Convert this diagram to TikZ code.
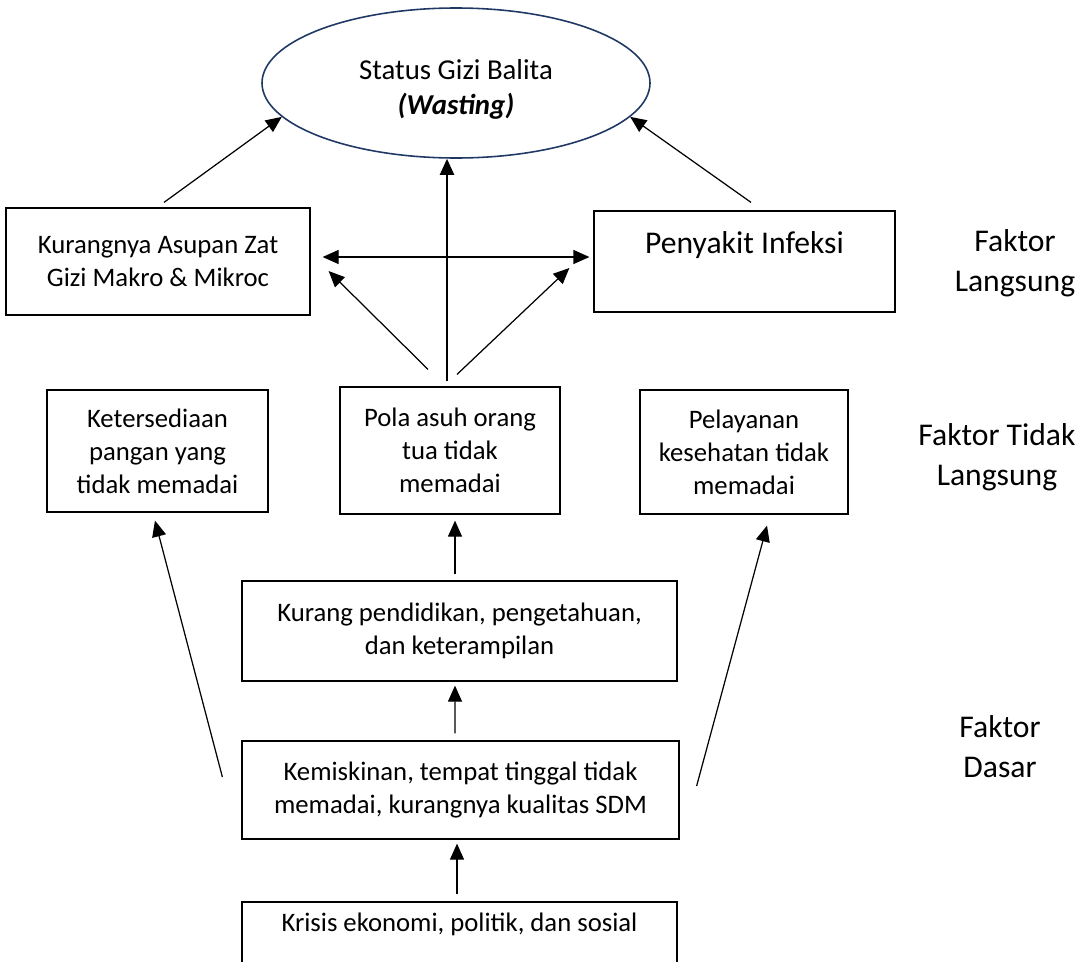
\documentclass[tikz,border=0pt]{standalone}
\usepackage{fontspec}
\setmainfont{Carlito}
\usetikzlibrary{shapes.geometric,arrows.meta}
\definecolor{ellipseblue}{RGB}{32,56,100}

\begin{document}
\begin{tikzpicture}[
	box/.style={draw=black, line width=0.7pt, align=center, inner sep=0pt, font=\fontsize{15.2}{18.8}\selectfont},
	bigbox/.style={box, font=\fontsize{18}{22.8}\selectfont},
	faktor/.style={align=center, inner sep=0pt, font=\fontsize{18}{22.8}\selectfont},
	arr/.style={-{Triangle[length=0.32cm,width=0.28cm]}, line width=0.7pt},
	dblarr/.style={{Triangle[length=0.32cm,width=0.28cm]}-{Triangle[length=0.32cm,width=0.28cm]}, line width=0.7pt}
]
	%page frame, the bottom box runs off it
	\useasboundingbox (0,0) rectangle (21.68,-19.22);
	\clip (0,0) rectangle (21.68,-19.22);

	%outcome
	\node[ellipse, draw=ellipseblue, line width=0.9pt, minimum width=7.76cm, minimum height=3cm, inner sep=0pt, align=center, text height=1.36cm, font=\fontsize{16.4}{20}\selectfont] (status) at (9.12,-1.66) {Status Gizi Balita\\ \textbf{\textit{(Wasting)}}};

	%direct factors
	\node[box, minimum width=6.08cm, minimum height=2.14cm] (asupan) at (3.16,-5.23) {Kurangnya Asupan Zat\\Gizi Makro \& Mikroc};
	\node[bigbox, minimum width=6.02cm, minimum height=2.02cm, text depth=0.75cm] (infeksi) at (14.89,-5.23) {Penyakit Infeksi};
	\node[faktor] (langsung) at (20.3,-5.26) {Faktor\\Langsung};

	%indirect factors
	\node[box, minimum width=4.42cm, minimum height=2.44cm] (pangan) at (3.15,-9.02) {Ketersediaan\\pangan yang\\tidak memadai};
	\node[box, minimum width=4.4cm, minimum height=2.54cm] (polaasuh) at (9.0,-9.01) {Pola asuh orang\\tua tidak\\memadai};
	\node[box, minimum width=4.16cm, minimum height=2.48cm] (pelayanan) at (14.88,-9.04) {Pelayanan\\kesehatan tidak\\memadai};
	\node[faktor] (tidaklangsung) at (19.94,-9.14) {Faktor Tidak\\Langsung};

	%basic factors
	\node[box, minimum width=8.7cm, minimum height=2cm] (pendidikan) at (9.19,-12.62) {Kurang pendidikan, pengetahuan,\\dan keterampilan};
	\node[box, minimum width=8.74cm, minimum height=1.96cm] (kemiskinan) at (9.21,-15.8) {Kemiskinan, tempat tinggal tidak\\memadai, kurangnya kualitas SDM};
	\node[box, minimum width=8.7cm, minimum height=2cm, text depth=1.2cm] (krisis) at (9.19,-19.04) {Krisis ekonomi, politik, dan sosial};
	\node[faktor] (dasar) at (20.0,-14.94) {Faktor\\Dasar};

	%arrows into the outcome
	\draw[arr] ([xshift=0.12cm,yshift=0.1cm]asupan.north) -- (status.191);
	\draw[arr] ([xshift=0.13cm,yshift=0.16cm]infeksi.north) -- (status.349);
	\coordinate (stem) at ([xshift=-0.06cm,yshift=0.1cm]polaasuh.north);
	\draw[arr, line width=1.2pt] (stem) -- (stem |- status.south);

	%links between the direct factors
	\draw[dblarr] ([xshift=0.24cm,yshift=0.09cm]asupan.east) -- ([xshift=-0.08cm,yshift=0.09cm]infeksi.west);
	\draw[arr] ([xshift=-0.44cm,yshift=0.34cm]polaasuh.north) -- ([xshift=0.36cm,yshift=-0.19cm]asupan.east);
	\draw[arr] ([xshift=0.14cm,yshift=0.24cm]polaasuh.north) -- ([xshift=-0.48cm,yshift=-0.13cm]infeksi.west);

	%upward chain
	\draw[arr] ([xshift=-0.09cm,yshift=0.12cm]pendidikan.north) -- ([xshift=0.1cm,yshift=-0.12cm]polaasuh.south);
	\draw[arr] ([xshift=-0.11cm,yshift=0.14cm]kemiskinan.north) -- ([xshift=-0.09cm,yshift=-0.08cm]pendidikan.south);
	\draw[arr] ([xshift=-0.05cm,yshift=0.14cm]krisis.north) -- ([xshift=-0.07cm,yshift=-0.08cm]kemiskinan.south);
	\draw[arr] ([xshift=-0.38cm,yshift=0.26cm]kemiskinan.west) -- ([xshift=-0.05cm,yshift=-0.16cm]pangan.south);
	\draw[arr] ([xshift=0.34cm,yshift=0.08cm]kemiskinan.east) -- ([xshift=0.46cm,yshift=-0.22cm]pelayanan.south);
\end{tikzpicture}
\end{document}
